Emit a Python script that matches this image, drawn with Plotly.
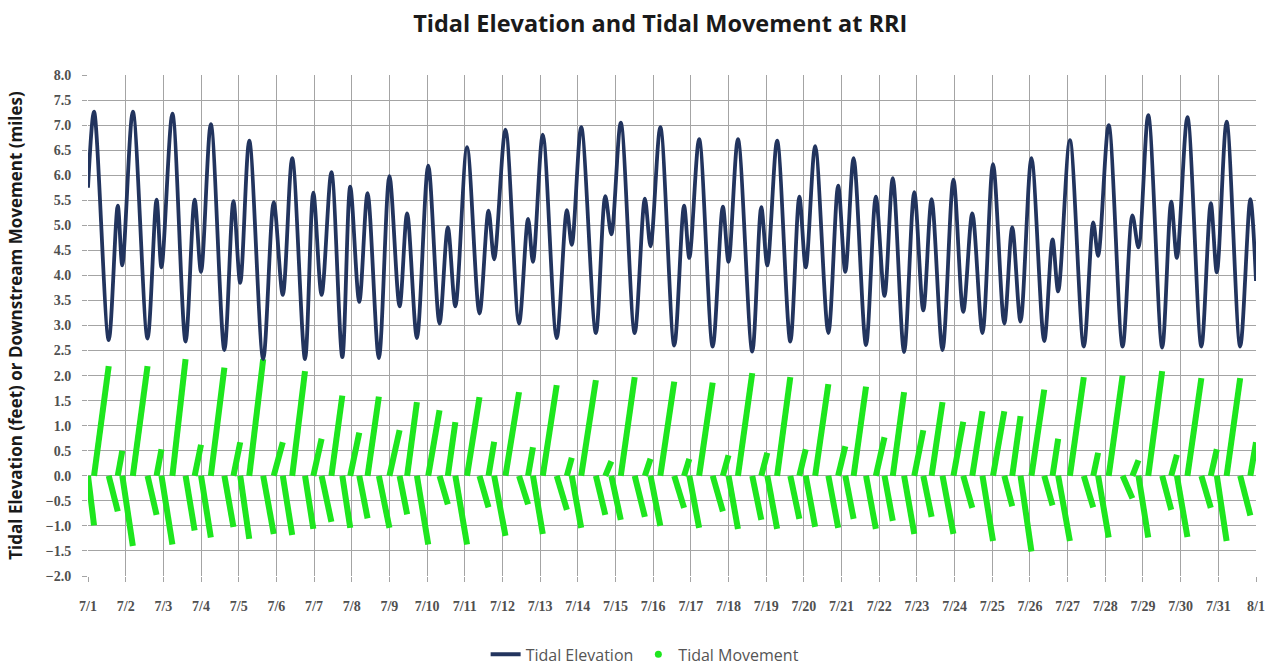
import plotly.graph_objects as go

# Times of high and low water, in days after 7/1 00:00, with elevation (ft)
turn_days = [
    0.00, 0.16, 0.55, 0.79, 0.91, 1.19, 1.58, 1.82, 1.95, 2.24,
    2.59, 2.83, 3.00, 3.26, 3.62, 3.86, 4.04, 4.28, 4.65, 4.93,
    5.17, 5.42, 5.76, 5.98, 6.20, 6.46, 6.75, 6.96, 7.20, 7.42,
    7.72, 8.00, 8.27, 8.47, 8.73, 9.03, 9.33, 9.55, 9.75, 10.06,
    10.39, 10.63, 10.78, 11.08, 11.44, 11.68, 11.81, 12.07, 12.44, 12.71,
    12.84, 13.09, 13.48, 13.73, 13.89, 14.14, 14.51, 14.78, 14.93, 15.19,
    15.56, 15.82, 15.96, 16.22, 16.58, 16.85, 17.00, 17.25, 17.63, 17.87,
    18.03, 18.29, 18.64, 18.88, 19.05, 19.30, 19.65, 19.91, 20.10, 20.32,
    20.65, 20.91, 21.14, 21.36, 21.66, 21.93, 22.17, 22.39, 22.68, 22.97,
    23.23, 23.47, 23.74, 24.02, 24.32, 24.53, 24.75, 25.04, 25.38, 25.60,
    25.75, 26.06, 26.43, 26.68, 26.81, 27.09, 27.46, 27.72, 27.88, 28.14,
    28.51, 28.75, 28.90, 29.18, 29.55, 29.80, 29.96, 30.22, 30.58, 30.85,
    31.00,
]

elevation_ft = [
    5.75, 7.27, 2.71, 5.39, 4.20, 7.27, 2.74, 5.51, 4.16, 7.23,
    2.68, 5.51, 4.07, 7.02, 2.51, 5.48, 3.85, 6.69, 2.33, 5.46,
    3.61, 6.34, 2.33, 5.65, 3.61, 6.06, 2.37, 5.77, 3.47, 5.64,
    2.35, 5.98, 3.38, 5.24, 2.75, 6.19, 3.04, 4.96, 3.38, 6.56,
    3.24, 5.29, 4.32, 6.91, 3.04, 5.13, 4.27, 6.81, 2.75, 5.30,
    4.61, 6.96, 2.85, 5.58, 4.82, 7.05, 2.85, 5.53, 4.58, 6.96,
    2.60, 5.39, 4.35, 6.72, 2.58, 5.37, 4.27, 6.72, 2.48, 5.36,
    4.20, 6.69, 2.68, 5.57, 4.16, 6.58, 2.85, 5.79, 4.07, 6.34,
    2.61, 5.57, 3.59, 5.94, 2.47, 5.66, 3.30, 5.52, 2.51, 5.91,
    3.27, 5.24, 2.85, 6.22, 3.04, 4.96, 3.08, 6.34, 2.69, 4.72,
    3.68, 6.70, 2.58, 5.06, 4.39, 7.00, 2.58, 5.20, 4.56, 7.20,
    2.56, 5.47, 4.35, 7.16, 2.58, 5.44, 4.06, 7.07, 2.58, 5.52,
    3.89,
]

# Net downstream travel (miles) accumulated over each interval between turns
movement_mi = [
    -0.99, 2.19, -0.71, 0.50, -1.40, 2.19, -0.78, 0.53, -1.37, 2.33,
    -1.09, 0.62, -1.23, 2.16, -1.02, 0.67, -1.26, 2.33, -1.16, 0.67,
    -1.18, 2.09, -1.06, 0.74, -0.92, 1.60, -1.04, 0.86, -0.85, 1.58,
    -1.04, 0.91, -0.77, 1.47, -1.37, 1.31, -0.57, 1.07, -1.37, 1.57,
    -0.63, 0.68, -1.20, 1.67, -0.57, 0.57, -1.16, 1.81, -0.68, 0.36,
    -1.04, 1.91, -0.78, 0.29, -0.88, 1.97, -0.82, 0.34, -1.00, 1.88,
    -0.64, 0.34, -1.04, 1.86, -0.71, 0.41, -1.06, 2.05, -0.88, 0.46,
    -1.06, 1.97, -0.86, 0.53, -1.02, 1.83, -1.04, 0.59, -0.86, 1.78,
    -1.06, 0.77, -0.90, 1.67, -1.16, 0.91, -0.82, 1.47, -1.16, 1.08,
    -0.64, 1.29, -1.30, 1.29, -0.61, 1.19, -1.51, 1.72, -0.59, 0.74,
    -1.30, 1.97, -0.63, 0.46, -1.23, 2.00, -0.45, 0.31, -1.23, 2.09,
    -0.68, 0.42, -1.22, 1.95, -0.64, 0.53, -1.30, 1.95, -0.79, 0.67,
]

tick_labels = [f"7/{d}" for d in range(1, 32)] + ["8/1"]

# Each movement run starts from zero at one turn and ends at the next
move_x, move_y = [], []
for t0, t1, m in zip(turn_days[:-1], turn_days[1:], movement_mi):
    move_x += [t0, t1, None]
    move_y += [0, m, None]

GREEN = "#1ee61e"
NAVY = "#22345e"
GRID = "#a4a4a4"

fig = go.Figure()
fig.add_trace(go.Scatter(
    x=move_x, y=move_y, mode="lines",
    line=dict(color=GREEN, width=6),
    showlegend=False, hoverinfo="skip",
))
fig.add_trace(go.Scatter(
    x=turn_days, y=elevation_ft, mode="lines", name="Tidal Elevation",
    line=dict(color=NAVY, width=3.8, shape="spline", smoothing=0.9),
))
fig.add_trace(go.Scatter(
    x=[None], y=[None], mode="markers", name="Tidal Movement",
    marker=dict(color=GREEN, size=7),
))

tick_font = dict(family="Liberation Serif", size=14, color="#505050", weight="bold")

fig.update_layout(
    width=1282, height=665,
    paper_bgcolor="white", plot_bgcolor="white",
    margin=dict(l=88, r=26, t=75, b=89, autoexpand=False),
    title=dict(
        text="<b>Tidal Elevation and Tidal Movement at RRI</b>",
        x=0.515, xanchor="center", y=0.965, yanchor="middle",
        font=dict(family="Open Sans", size=23.5, color="#1a1a1a"),
    ),
    legend=dict(
        orientation="h", x=0.477, xanchor="center",
        yref="container", y=0.016, yanchor="middle",
        font=dict(family="Open Sans", size=16, color="#555555"),
        itemwidth=30, traceorder="normal",
    ),
    xaxis=dict(
        range=[0, 31], tickvals=list(range(32)), ticktext=tick_labels,
        showgrid=True, gridcolor=GRID, gridwidth=1,
        ticks="outside", ticklen=5, tickcolor=GRID,
        ticklabelstandoff=12, automargin=False,
        showline=False, zeroline=False, tickfont=tick_font,
    ),
    yaxis=dict(
        range=[-2, 8], dtick=0.5, tickformat=".1f",
        showgrid=True, gridcolor=GRID, gridwidth=1,
        ticks="outside", ticklen=5, tickcolor=GRID,
        ticklabelstandoff=8, automargin=False,
        showline=False, zeroline=False, tickfont=tick_font,
        title=dict(
            text="<b>Tidal Elevation (feet) or Downstream Movement (miles)</b>",
            font=dict(family="Open Sans", size=17, color="#1a1a1a"),
            standoff=18,
        ),
    ),
)

fig.write_html("out.html")
